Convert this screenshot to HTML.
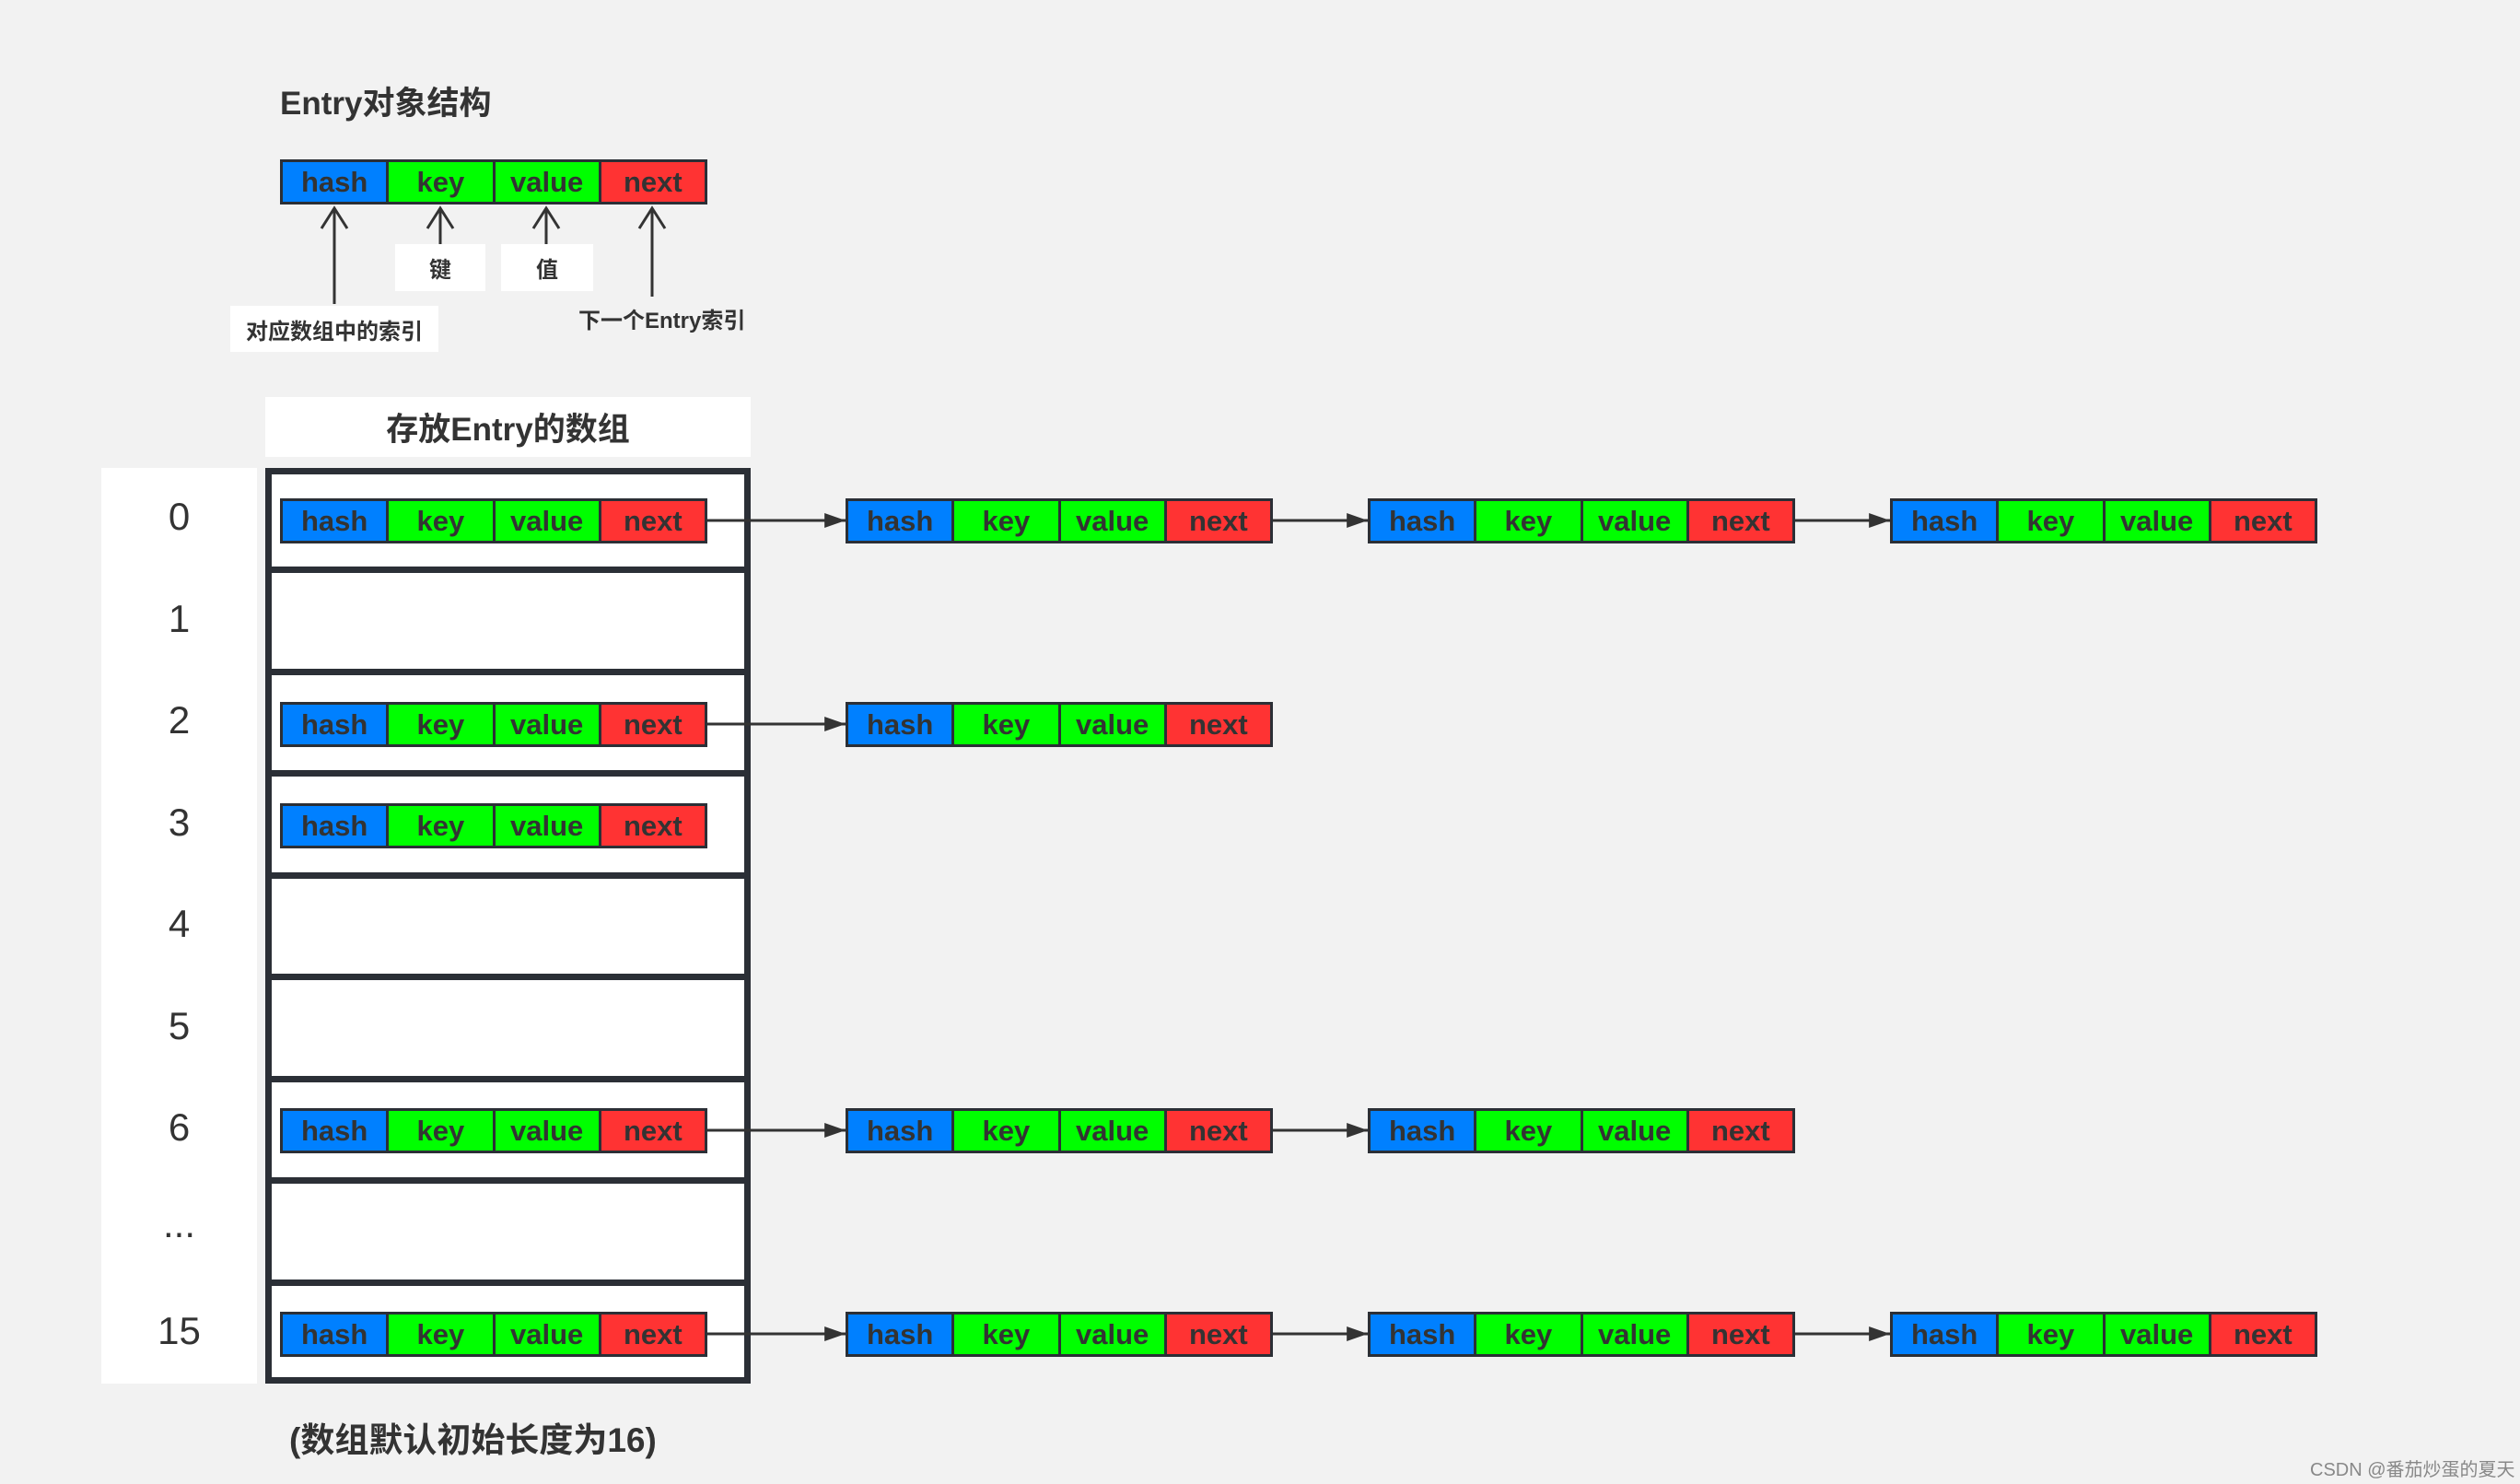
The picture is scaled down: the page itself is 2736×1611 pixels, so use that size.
<!DOCTYPE html>
<html><head><meta charset="utf-8"><style>
body{margin:0;width:2736px;height:1611px;background:#f2f2f2;position:relative;overflow:hidden;font-family:"Liberation Sans","Noto Sans CJK SC",sans-serif;color:#333}
.a{position:absolute}
.e{position:absolute;width:464px;height:49px;display:flex;border:3px solid #2b2f36;box-sizing:border-box}
.e div{flex:1;display:flex;align-items:center;justify-content:center;font-weight:bold;font-size:31px;color:#333;border-left:3px solid #2b2f36}
.e div:first-child{border-left:none;background:#0080ff}
.e .k,.e .v{background:#00ff00}
.e .n{background:#ff3333}
.lab{position:absolute;background:#fff;display:flex;align-items:center;justify-content:center;font-weight:bold;font-size:24px;color:#333}
.idx{position:absolute;left:110px;width:169px;text-align:center;font-size:42px;color:#333}
.row{position:absolute;left:288px;width:527px;height:7px;background:#2b2f36}
</style></head><body>
<div class="a" style="left:304px;top:84px;font-size:35px;font-weight:bold">Entry对象结构</div>
<div class="e" style="left:304px;top:173px"><div>hash</div><div class="k">key</div><div class="v">value</div><div class="n">next</div></div>
<div class="lab" style="left:429px;top:265px;width:98px;height:51px">键</div>
<div class="lab" style="left:544px;top:265px;width:100px;height:51px">值</div>
<div class="lab" style="left:250px;top:332px;width:226px;height:50px">对应数组中的索引</div>
<div class="a" style="left:628px;top:328px;font-size:24px;font-weight:bold">下一个Entry索引</div>
<div class="lab" style="left:288px;top:431px;width:527px;height:65px;font-size:35px">存放Entry的数组</div>
<div class="a" style="left:110px;top:508px;width:169px;height:994px;background:#fff"></div>
<div class="a" style="left:288px;top:508px;width:527px;height:994px;background:#fff;border:7px solid #2b2f36;box-sizing:border-box"></div>
<div class="row" style="top:615px"></div><div class="row" style="top:726px"></div><div class="row" style="top:836px"></div><div class="row" style="top:947px"></div><div class="row" style="top:1057px"></div><div class="row" style="top:1168px"></div><div class="row" style="top:1278px"></div><div class="row" style="top:1389px"></div>
<div class="idx" style="top:537px">0</div><div class="idx" style="top:648px">1</div><div class="idx" style="top:758px">2</div><div class="idx" style="top:869px">3</div><div class="idx" style="top:979px">4</div><div class="idx" style="top:1090px">5</div><div class="idx" style="top:1200px">6</div><div class="idx" style="top:1305px">...</div><div class="idx" style="top:1421px">15</div>
<svg class="a" style="left:0;top:0" width="2736" height="1611">
<defs><marker id="m" markerWidth="10" markerHeight="8" refX="10" refY="4" orient="auto" markerUnits="userSpaceOnUse"><path d="M0,0 L10,4 L0,8z" fill="#333" transform="scale(1)"/></marker>
<marker id="b" viewBox="0 0 20 14" markerWidth="24" markerHeight="16" refX="20" refY="7" orient="auto" markerUnits="userSpaceOnUse"><path d="M0,0 L20,7 L0,14z" fill="#333"/></marker></defs>
<g stroke="#333" stroke-width="3" fill="none">
<line x1="363" y1="330" x2="363" y2="226"/><polyline points="349,248 363,226 377,248"/>
<line x1="478" y1="265" x2="478" y2="226"/><polyline points="464,248 478,226 492,248"/>
<line x1="593" y1="265" x2="593" y2="226"/><polyline points="579,248 593,226 607,248"/>
<line x1="708" y1="322" x2="708" y2="226"/><polyline points="694,248 708,226 722,248"/>
</g>
<g stroke="#333" stroke-width="3" marker-end="url(#b)">
<line x1="768" y1="565" x2="918" y2="565"/><line x1="1382" y1="565" x2="1485" y2="565"/><line x1="1949" y1="565" x2="2052" y2="565"/>
<line x1="768" y1="786" x2="918" y2="786"/>
<line x1="768" y1="1227" x2="918" y2="1227"/><line x1="1382" y1="1227" x2="1485" y2="1227"/>
<line x1="768" y1="1448" x2="918" y2="1448"/><line x1="1382" y1="1448" x2="1485" y2="1448"/><line x1="1949" y1="1448" x2="2052" y2="1448"/>
</g></svg>
<div class="e" style="left:304px;top:541px"><div>hash</div><div class="k">key</div><div class="v">value</div><div class="n">next</div></div>
<div class="e" style="left:918px;top:541px"><div>hash</div><div class="k">key</div><div class="v">value</div><div class="n">next</div></div>
<div class="e" style="left:1485px;top:541px"><div>hash</div><div class="k">key</div><div class="v">value</div><div class="n">next</div></div>
<div class="e" style="left:2052px;top:541px"><div>hash</div><div class="k">key</div><div class="v">value</div><div class="n">next</div></div>
<div class="e" style="left:304px;top:762px"><div>hash</div><div class="k">key</div><div class="v">value</div><div class="n">next</div></div>
<div class="e" style="left:918px;top:762px"><div>hash</div><div class="k">key</div><div class="v">value</div><div class="n">next</div></div>
<div class="e" style="left:304px;top:872px"><div>hash</div><div class="k">key</div><div class="v">value</div><div class="n">next</div></div>
<div class="e" style="left:304px;top:1203px"><div>hash</div><div class="k">key</div><div class="v">value</div><div class="n">next</div></div>
<div class="e" style="left:918px;top:1203px"><div>hash</div><div class="k">key</div><div class="v">value</div><div class="n">next</div></div>
<div class="e" style="left:1485px;top:1203px"><div>hash</div><div class="k">key</div><div class="v">value</div><div class="n">next</div></div>
<div class="e" style="left:304px;top:1424px"><div>hash</div><div class="k">key</div><div class="v">value</div><div class="n">next</div></div>
<div class="e" style="left:918px;top:1424px"><div>hash</div><div class="k">key</div><div class="v">value</div><div class="n">next</div></div>
<div class="e" style="left:1485px;top:1424px"><div>hash</div><div class="k">key</div><div class="v">value</div><div class="n">next</div></div>
<div class="e" style="left:2052px;top:1424px"><div>hash</div><div class="k">key</div><div class="v">value</div><div class="n">next</div></div>
<div class="a" style="left:314px;top:1533px;font-size:37px;font-weight:bold">(数组默认初始长度为16)</div>
<div class="a" style="left:2508px;top:1579px;font-size:20px;color:#888">CSDN @番茄炒蛋的夏天</div>
</body></html>
